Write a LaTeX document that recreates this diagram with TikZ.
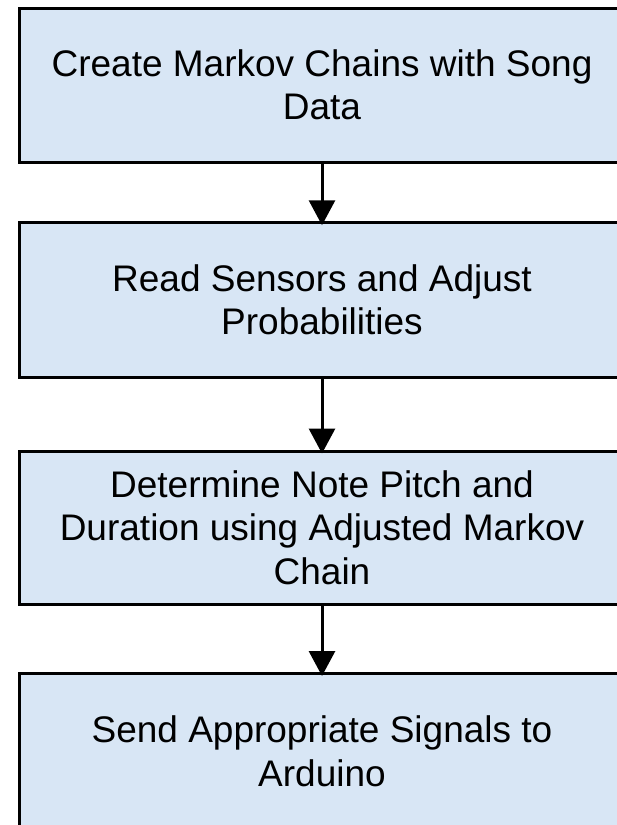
\documentclass[tikz,border=0pt]{standalone}
\usepackage{fontspec}
\setmainfont{Liberation Sans}
\usetikzlibrary{arrows.meta}
\definecolor{boxfill}{HTML}{D8E6F5}
\begin{document}
\begin{tikzpicture}[x=1pt,y=-1pt,
  stepbox/.style={draw=black, line width=3pt, fill=boxfill, rectangle,
    minimum width=605pt, inner sep=0pt, align=center,
    font=\fontsize{37pt}{43.5pt}\selectfont},
  arr/.style={line width=3pt, -{Triangle[length=25pt,width=26pt]}, shorten >=-4pt}]
\clip (0,0) rectangle (617,825);
\fill[white] (0,0) rectangle (617,825);
\node[stepbox, minimum height=154pt] (b1) at (322,85) {Create Markov Chains with Song\\Data};
\node[stepbox, minimum height=154.5pt] (b2) at (322,300) {Read Sensors and Adjust\\Probabilities};
\node[stepbox, minimum height=153pt] (b3) at (322,527.5) {Determine Note Pitch and\\Duration using Adjusted Markov\\Chain};
\node[stepbox, minimum height=156pt] (b4) at (322,751.5) {Send Appropriate Signals to\\Arduino};
\draw[arr] (b1.south) -- (b2.north);
\draw[arr] (b2.south) -- (b3.north);
\draw[arr] (b3.south) -- (b4.north);
\end{tikzpicture}
\end{document}
